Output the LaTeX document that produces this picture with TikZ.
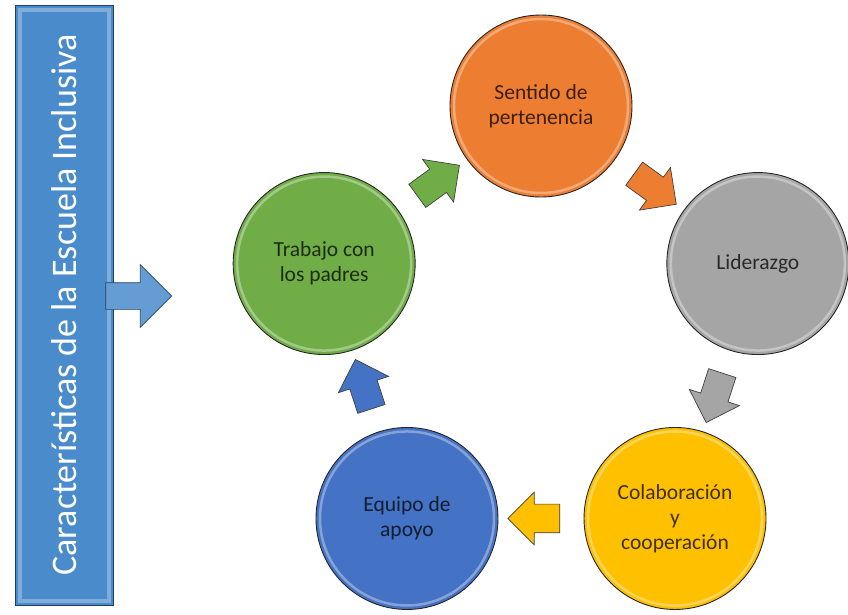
\documentclass[tikz,border=0pt]{standalone}
\usepackage{fontspec}
\setmainfont{Carlito}
\usetikzlibrary{shapes.arrows,calc}
\definecolor{ccOrange}{HTML}{ED7D31}
\definecolor{ccGray}{HTML}{A5A5A5}
\definecolor{ccGold}{HTML}{FFC000}
\definecolor{ccBlue}{HTML}{4472C4}
\definecolor{ccGreen}{HTML}{70AD47}
\definecolor{ccBar}{HTML}{4A8BCB}
\tikzset{
  stage/.style={circle, draw=black!85, line width=0.9pt, minimum size=182pt,
    inner sep=0pt, align=center, font=\fontsize{21.5}{25}\selectfont,
    fill=#1, text=#1!25!black},
  turn/.style={single arrow, draw=black!75, line width=0.7pt, fill=#1,
    minimum height=52pt, single arrow head extend=12pt,
    single arrow head indent=0pt, inner xsep=0pt, inner ysep=14pt},
}
\begin{document}
\begin{tikzpicture}[x=1pt,y=1pt]
  \useasboundingbox (0,0) rectangle (848,-614);
  % barra del titulo
  \node[rectangle, draw=ccBar!45!black, line width=1pt, fill=ccBar,
    minimum width=98pt, minimum height=600pt, inner sep=0pt, text=white,
    font=\fontsize{36}{42}\selectfont] (titulo) at (64,-305)
    {\rotatebox{90}{Características de la Escuela Inclusiva}};
  \draw[white, opacity=.3, line width=4pt]
    ([shift={(5,-5)}]titulo.north west) rectangle ([shift={(-5,5)}]titulo.south east);
  \node[single arrow, draw=ccBar!50!black, line width=0.7pt, fill=ccBar!85!white,
    minimum height=66pt, single arrow head extend=18pt,
    single arrow head indent=0pt, inner xsep=0pt, inner ysep=13pt] (entrada) at (132,-296) {};
  % ciclo
  \begin{scope}[shift={(541,-334)}]
    \draw
      (90:228) node[stage=ccOrange] (sentido) {Sentido de\\pertenencia}
      (18:228) node[stage=ccGray] (liderazgo) {Liderazgo}
      (-54:228) node[stage=ccGold] (colabora) {Colaboración\\y\\cooperación}
      (-126:228) node[stage=ccBlue] (equipo) {Equipo de\\apoyo}
      (162:228) node[stage=ccGreen] (trabajo) {Trabajo con\\los padres};
  \end{scope}
  \foreach \n in {sentido,liderazgo,colabora,equipo,trabajo}
    \draw[white, opacity=.35, line width=2.5pt] (\n) circle (87);
  % flechas
  \node[turn=ccGreen, rotate=36] (f1) at ($(trabajo)!.5!(sentido)$) {};
  \node[turn=ccOrange, rotate=-36] (f2) at ($(sentido)!.5!(liderazgo)$) {};
  \node[turn=ccGray, rotate=-108] (f3) at ($(liderazgo)!.5!(colabora)$) {};
  \node[turn=ccGold, rotate=180] (f4) at ($(colabora)!.5!(equipo)$) {};
  \node[turn=ccBlue, rotate=108] (f5) at ($(equipo)!.5!(trabajo)$) {};
\end{tikzpicture}
\end{document}
